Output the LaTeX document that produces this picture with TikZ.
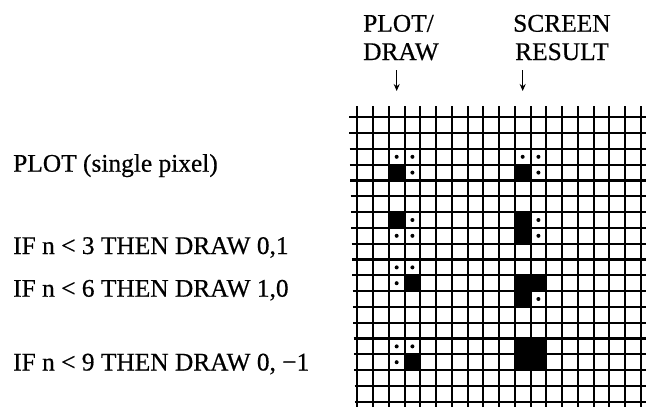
\documentclass[tikz,border=0pt]{standalone}
\usepackage{fontspec}
\setmainfont{Liberation Serif}[FakeBold=0.5]
\usetikzlibrary{arrows.meta}
\newcommand\pixcell[2]{\fill ({357.3+#1*15.75},{117.3+#2*15.8}) rectangle ++(15.75,15.8);}
\newcommand\pixdot[2]{\fill ({357.3+(#1+0.5)*15.75},{117.3+(#2+0.5)*15.8}) circle (2pt);}
\begin{document}
\begin{tikzpicture}[x=1pt,y=-1pt,
  gridline/.style={line width=2.1pt,black},
  txt/.style={anchor=base west,inner sep=0pt,font=\fontsize{25.4}{29}\selectfont},
  downarrow/.style={line width=1.5pt,-{Stealth[length=7pt,width=6pt]}}]
\useasboundingbox (0,0) rectangle (646,407);
% grid
\foreach \i in {0,...,18}{
  \draw[gridline] ({357.3+\i*15.75},106) -- ({357.3+\i*15.75},407);
}
\foreach \j in {0,...,18}{
  \draw[gridline] ({349+\j*0.33},{117.3+\j*15.8}) -- (646,{117.3+\j*15.8});
}
% PLOT (single pixel)
\pixcell{2}{3} \pixdot{2}{2} \pixdot{3}{2} \pixdot{3}{3}
\pixcell{10}{3} \pixdot{10}{2} \pixdot{11}{2} \pixdot{11}{3}
% DRAW 0,1
\pixcell{2}{6} \pixdot{3}{6} \pixdot{2}{7} \pixdot{3}{7}
\pixcell{10}{6} \pixcell{10}{7} \pixdot{11}{6} \pixdot{11}{7}
% DRAW 1,0
\pixcell{3}{10} \pixdot{2}{9} \pixdot{3}{9} \pixdot{2}{10}
\pixcell{10}{10} \pixcell{11}{10} \pixcell{10}{11} \pixdot{11}{11}
% DRAW 0,-1
\pixcell{3}{15} \pixdot{2}{14} \pixdot{3}{14} \pixdot{2}{15}
\pixcell{10}{14} \pixcell{11}{14} \pixcell{10}{15} \pixcell{11}{15}
% headers
\node[txt] (plot1) at (363,31.7) {PLOT/};
\node[txt] (draw1) at (363,60) {DRAW};
\node[txt] (scr1) at (513,31.7) {SCREEN};
\node[txt] (res1) at (515,60) {RESULT};
\coordinate (a1s) at (396.7,70);
\coordinate (a1e) at (396.7,91);
\coordinate (a2s) at (522.7,70);
\coordinate (a2e) at (522.7,91);
\draw[downarrow] (a1s) -- (a1e);
\draw[downarrow] (a2s) -- (a2e);
% left labels
\node[txt] (l1) at (13,171.7) {PLOT (single pixel)};
\node[txt] (l2) at (13,254) {IF n < 3 THEN DRAW 0,1};
\node[txt] (l3) at (13,296.7) {IF n < 6 THEN DRAW 1,0};
\node[txt] (l4) at (13,370.5) {IF n < 9 THEN DRAW 0, −1};
\end{tikzpicture}
\end{document}
